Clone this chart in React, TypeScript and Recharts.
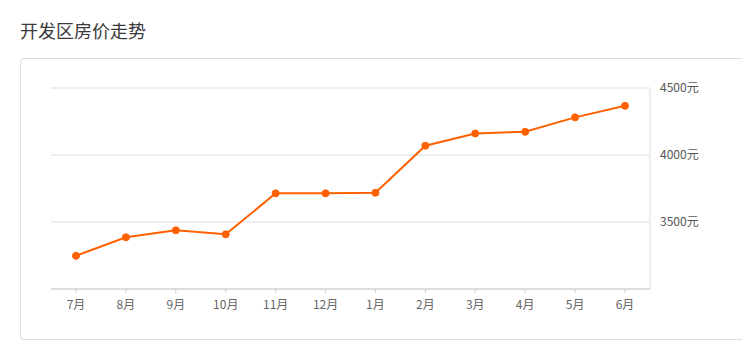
import React from 'react';
import { LineChart, Line, XAxis, YAxis, CartesianGrid } from 'recharts';

const months = ['7月', '8月', '9月', '10月', '11月', '12月', '1月', '2月', '3月', '4月', '5月', '6月'];
const prices = [3248, 3386, 3438, 3408, 3714, 3714, 3718, 4069, 4161, 4173, 4281, 4367];
const priceTicks = [3000, 3500, 4000, 4500];

const data = months.map((m, i) => ({ name: m, price: prices[i] }));

const font = "'Noto Sans CJK SC', 'Noto Sans', sans-serif";

const App = () => {
  return (
    <div
      style={{
        position: 'absolute',
        left: 0,
        top: 0,
        width: 742,
        height: 356,
        background: '#fff',
        overflow: 'hidden',
        fontFamily: font,
      }}>
      <div
        style={{
          position: 'absolute',
          left: 20,
          top: 18,
          fontSize: 18,
          lineHeight: '24px',
          color: '#3a3a3a',
        }}>
        开发区房价走势
      </div>
      <div
        style={{
          position: 'absolute',
          left: 20,
          top: 58,
          width: 740,
          height: 280,
          border: '1px solid #ddd',
          borderRadius: 4,
        }}
      />
      <div style={{ position: 'absolute', left: 0, top: 0 }}>
        <LineChart
          width={742}
          height={356}
          data={data}
          margin={{ top: 88, right: 32, left: 51, bottom: 37 }}>
          <CartesianGrid vertical={false} stroke="#ddd" />
          <XAxis
            dataKey="name"
            padding={{ left: 25, right: 25 }}
            height={30}
            axisLine={{ stroke: '#ddd', strokeWidth: 2 }}
            tickLine={{ stroke: '#ccc' }}
            tickSize={4}
            tickMargin={7}
            tick={{ fill: '#666', fontSize: 12, fontFamily: font }}
          />
          <YAxis
            orientation="right"
            width={60}
            domain={[3000, 4500]}
            ticks={priceTicks}
            tickFormatter={(v: number) => (v === 3000 ? '' : `${v}元`)}
            axisLine={{ stroke: '#ddd' }}
            tickLine={false}
            tickMargin={4}
            tick={{ fill: '#555', fontSize: 12, fontFamily: font }}
          />
          <Line
            type="linear"
            dataKey="price"
            stroke="#ff6000"
            strokeWidth={2}
            dot={{ r: 3.5, fill: '#ff6000', stroke: '#ff6000', strokeWidth: 1 }}
            isAnimationActive={false}
          />
        </LineChart>
      </div>
    </div>
  );
};

export default App;
